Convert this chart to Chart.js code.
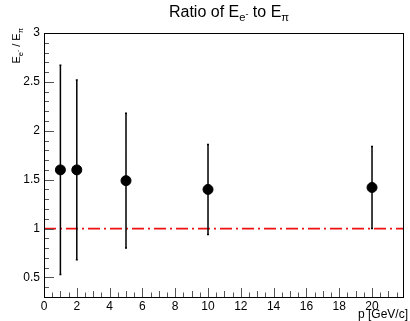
<!DOCTYPE html>
<html>
<head>
<meta charset="utf-8">
<script src="https://cdn.jsdelivr.net/npm/chart.js@4.4.1/dist/chart.umd.min.js"></script>
<style>
  body { margin: 0; background: #fff; }
  #wrap { position: relative; width: 410px; height: 321px; font-family: "Liberation Sans", Arial, sans-serif; color: #000; }
  #c { position: absolute; left: 0; top: 0; }
  .lbl { position: absolute; white-space: nowrap; line-height: 1; }
  #title { left: 0; width: 458px; top: 4px; text-align: center; font-size: 16px; }
  #ytitle { left: 11px; top: 108px; width: 80px; text-align: right; font-size: 11px; transform: rotate(-90deg); transform-origin: 0 0; }
  #xtitle { right: 2px; top: 308px; font-size: 12px; }
  sub { font-size: 70%; vertical-align: -0.35em; }
  sub sup { font-size: 80%; vertical-align: 0.5em; }
</style>
</head>
<body>
<div id="wrap">
  <canvas id="c" width="410" height="321"></canvas>
  <div class="lbl" id="title">Ratio of E<sub>e<sup>-</sup></sub> to E<sub>π</sub></div>
  <div class="lbl" id="ytitle">E<sub>e<sup>-</sup></sub> / E<sub>π</sub></div>
  <div class="lbl" id="xtitle">p [GeV/c]</div>
</div>
<script>
// momentum points and the measured ratio with its error
const momentum = [1, 2, 5, 10, 20];
const ratio = [1.6, 1.6, 1.49, 1.40, 1.42];
const ratioErr = [1.07, 0.92, 0.69, 0.46, 0.42];

// axis ranges and labelled ticks
const xRange = [0, 21.95];
const yRange = [0.3, 3];
const xTicks = [0, 2, 4, 6, 8, 10, 12, 14, 16, 18, 20];
const yTicks = [0.5, 1, 1.5, 2, 2.5, 3];
const refLevel = 1;

// frame box, inward tick marks and vertical error bars
const framePlugin = {
    id: 'frame',
    afterDatasetsDraw(chart) {
        const { ctx, chartArea: a, scales: { x, y } } = chart;
        ctx.save();
        ctx.lineWidth = 1;
        ctx.strokeStyle = '#555';
        ctx.beginPath();
        // x ticks: major every 2, minor every 0.5
        for (let v = xRange[0]; v <= xRange[1] + 1e-9; v += 0.5) {
            const px = Math.round(x.getPixelForValue(v)) + 0.5;
            const len = Math.abs(v % 2) < 1e-6 ? 9 : (Math.abs(v % 1) < 1e-6 ? 6 : 4.5);
            ctx.moveTo(px, a.bottom);
            ctx.lineTo(px, a.bottom - len);
        }
        // y ticks: major every 0.5, minor every 0.1
        for (let i = 3; i <= 30; i++) {
            const v = i / 10;
            const py = Math.round(y.getPixelForValue(v)) + 0.5;
            const len = i % 5 === 0 ? 10 : 5;
            ctx.moveTo(a.left, py);
            ctx.lineTo(a.left + len, py);
        }
        ctx.stroke();

        ctx.strokeStyle = '#000';
        ctx.strokeRect(Math.round(a.left) + 0.5, Math.round(a.top) + 0.5,
            Math.round(a.right - a.left) - 1, Math.round(a.bottom - a.top));

        ctx.lineWidth = 1.5;
        ctx.beginPath();
        momentum.forEach((p, i) => {
            const px = x.getPixelForValue(p);
            const top = y.getPixelForValue(ratio[i] + ratioErr[i]);
            const bot = y.getPixelForValue(ratio[i] - ratioErr[i]);
            ctx.moveTo(px, top);
            ctx.lineTo(px, bot);
            ctx.moveTo(px - 1, top);
            ctx.lineTo(px + 1, top);
            ctx.moveTo(px - 1, bot);
            ctx.lineTo(px + 1, bot);
        });
        ctx.stroke();
        ctx.restore();
    }
};

new Chart(document.getElementById('c'), {
    type: 'scatter',
    data: {
        datasets: [
            {
                label: 'ratio',
                data: momentum.map((p, i) => ({ x: p, y: ratio[i] })),
                backgroundColor: '#000',
                borderColor: '#000',
                pointRadius: 5,
                pointHoverRadius: 5,
                order: 0
            },
            {
                label: 'unity',
                type: 'line',
                data: [{ x: xRange[0], y: refLevel }, { x: xRange[1], y: refLevel }],
                borderColor: '#ee1111',
                borderWidth: 1.7,
                borderDash: [12, 4, 2, 4],
                pointRadius: 0,
                order: 1
            }
        ]
    },
    options: {
        responsive: false,
        animation: false,
        devicePixelRatio: 1,
        layout: { padding: { top: 33, right: 1, left: 0, bottom: 0 } },
        plugins: { legend: { display: false }, tooltip: { enabled: false } },
        scales: {
            x: {
                type: 'linear',
                min: xRange[0],
                max: xRange[1],
                grid: { display: false, drawTicks: false, tickLength: 0 },
                border: { display: false },
                afterFit(s) { s.height = 24; },
                afterBuildTicks(s) { s.ticks = xTicks.map(v => ({ value: v })); },
                ticks: {
                    color: '#000',
                    padding: 2,
                    maxRotation: 0,
                    autoSkip: false,
                    font: { family: '"Liberation Sans", Arial, sans-serif', size: 12 },
                    callback: v => String(v)
                }
            },
            y: {
                type: 'linear',
                min: yRange[0],
                max: yRange[1],
                grid: { display: false, drawTicks: false, tickLength: 0 },
                border: { display: false },
                afterFit(s) { s.width = 44; },
                afterBuildTicks(s) { s.ticks = yTicks.map(v => ({ value: v })); },
                ticks: {
                    color: '#000',
                    padding: 4,
                    autoSkip: false,
                    font: { family: '"Liberation Sans", Arial, sans-serif', size: 12 },
                    callback: v => String(v)
                }
            }
        }
    },
    plugins: [framePlugin]
});
</script>
</body>
</html>
